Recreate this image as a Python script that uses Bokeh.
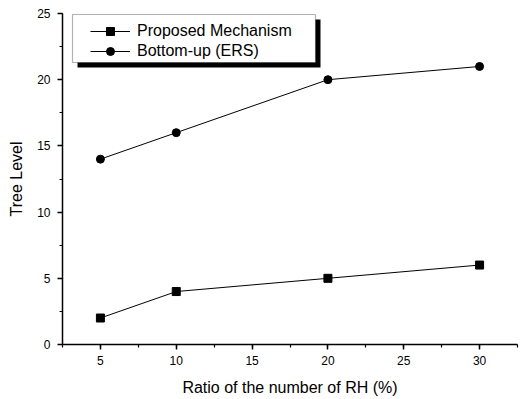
from bokeh.plotting import figure
from bokeh.models import Legend, LegendItem, BoxAnnotation, SingleIntervalTicker, Range1d
from bokeh.embed import file_html
from bokeh.resources import INLINE

# ---- data ----
ratio = [5, 10, 20, 30]
proposed = [2, 4, 5, 6]
bottom_up = [14, 16, 20, 21]
series_names = ["Proposed Mechanism", "Bottom-up (ERS)"]
x_title = "Ratio of the number of RH (%)"
y_title = "Tree Level"

FONT = "Liberation Sans"

p = figure(width=521, height=399, output_backend="svg", toolbar_location=None,
           x_range=Range1d(2.5, 32.5), y_range=Range1d(0, 25),
           min_border_left=62, min_border_right=4, min_border_top=13, min_border_bottom=55)
p.outline_line_color = None
p.xgrid.visible = False
p.ygrid.visible = False
p.background_fill_color = "white"
p.border_fill_color = "white"

l1 = p.line(ratio, proposed, line_color="black", line_width=1)
s1 = p.scatter(ratio, proposed, marker="square", size=8, fill_color="black", line_color="black")
l2 = p.line(ratio, bottom_up, line_color="black", line_width=1)
s2 = p.scatter(ratio, bottom_up, marker="circle", size=8, fill_color="black", line_color="black")

p.xaxis.ticker = SingleIntervalTicker(interval=5, num_minor_ticks=2)
p.yaxis.ticker = SingleIntervalTicker(interval=5, num_minor_ticks=2)
p.xaxis.axis_label = x_title
p.yaxis.axis_label = y_title
for ax in (p.xaxis[0], p.yaxis[0]):
    ax.axis_line_width = 1.5
    ax.axis_line_color = "black"
    ax.major_tick_line_width = 1.5
    ax.major_tick_line_color = "black"
    ax.minor_tick_line_width = 1.2
    ax.minor_tick_line_color = "black"
    ax.major_tick_out = 5
    ax.major_tick_in = 0
    ax.minor_tick_out = 3
    ax.minor_tick_in = 0
    ax.major_label_text_font = FONT
    ax.major_label_text_font_size = "12px"
    ax.major_label_text_color = "black"
    ax.axis_label_text_font = FONT
    ax.axis_label_text_font_size = "16px"
    ax.axis_label_text_font_style = "normal"
    ax.axis_label_text_color = "black"
p.xaxis.major_label_standoff = 6
p.xaxis.axis_label_standoff = 11
p.yaxis.major_label_standoff = 7
p.yaxis.axis_label_standoff = 9

shadow = BoxAnnotation(left=15, right=258, top=325, bottom=277,
                       left_units="screen", right_units="screen",
                       top_units="screen", bottom_units="screen",
                       fill_color="black", fill_alpha=1.0, line_color=None)
box = BoxAnnotation(left=10, right=253, top=330, bottom=282,
                    left_units="screen", right_units="screen",
                    top_units="screen", bottom_units="screen",
                    fill_color="white", fill_alpha=1.0, line_color="black", line_width=1.2)
p.add_layout(shadow, "center")
p.add_layout(box, "center")

legend = Legend(items=[LegendItem(label=series_names[0], renderers=[l1, s1]),
                       LegendItem(label=series_names[1], renderers=[l2, s2])],
                location=(28, 283), padding=0, spacing=0, margin=0,
                glyph_width=40, glyph_height=20, label_height=20, label_standoff=7,
                label_text_font=FONT, label_text_font_size="16px", label_text_color="black",
                background_fill_alpha=0, border_line_color=None)
p.add_layout(legend, "center")

open("out.html", "w").write(file_html(p, INLINE))
